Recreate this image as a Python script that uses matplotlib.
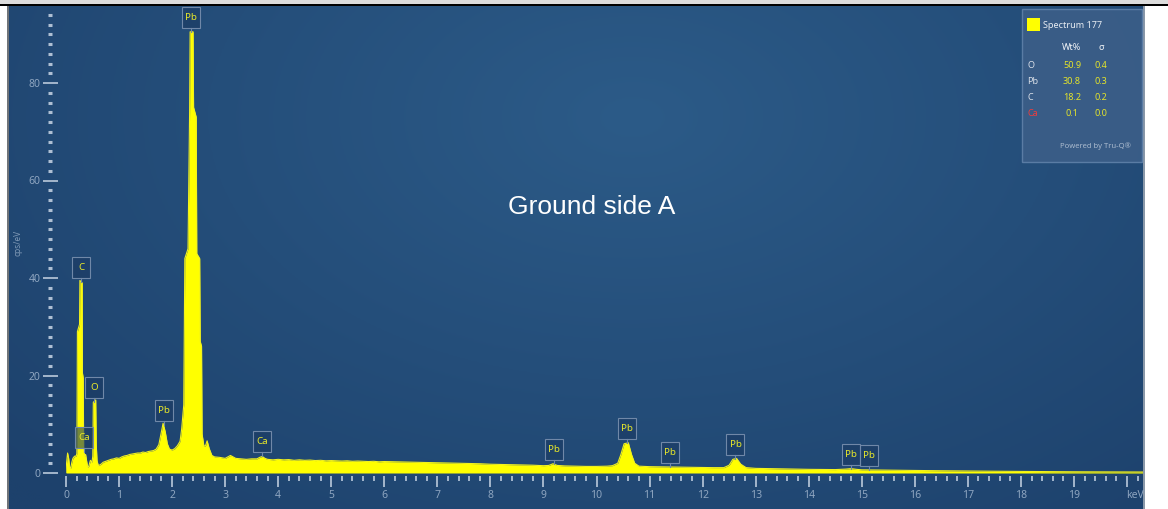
import numpy as np
import matplotlib
matplotlib.use("Agg")
import matplotlib.pyplot as plt
from matplotlib.patches import Rectangle
from matplotlib.lines import Line2D
from matplotlib import transforms
from matplotlib.colors import to_rgb

plt.rcParams["font.family"] = ["Noto Sans", "DejaVu Sans"]

# ---- spectrum (energy in keV, counts in cps/eV) ----
energy_kev = [
    0.00, 0.01, 0.03, 0.05, 0.07, 0.09, 0.11, 0.13, 0.15, 0.17, 0.19, 0.205,
    0.215, 0.255, 0.262, 0.305, 0.31, 0.325, 0.333, 0.35, 0.37, 0.39, 0.41,
    0.43, 0.46, 0.49, 0.505, 0.515, 0.56, 0.57, 0.585, 0.61, 0.66, 0.70,
    0.75, 0.80, 0.85, 0.90, 0.95, 1.00, 1.05, 1.10, 1.15, 1.20, 1.25, 1.30,
    1.35, 1.40, 1.45, 1.50, 1.55, 1.60, 1.65, 1.70, 1.75, 1.79, 1.83, 1.87,
    1.91, 1.95, 2.00, 2.05, 2.10, 2.15, 2.18, 2.22, 2.24, 2.30, 2.33, 2.34,
    2.395, 2.405, 2.455, 2.465, 2.52, 2.53, 2.555, 2.565, 2.60, 2.63, 2.66,
    2.70, 2.75, 2.80, 2.90, 3.00, 3.05, 3.10, 3.15, 3.20, 3.30, 3.40, 3.50,
    3.60, 3.65, 3.70, 3.75, 3.80, 3.90, 4.00, 4.10, 4.20, 4.30, 4.40, 4.50,
    4.60, 4.70, 4.80, 4.90, 5.00, 5.10, 5.20, 5.30, 5.40, 5.50, 5.60, 5.70,
    5.80, 5.90, 6.00, 6.20, 6.40, 6.60, 6.80, 7.00, 7.20, 7.40, 7.60, 7.80,
    8.00, 8.20, 8.40, 8.60, 8.80, 9.00, 9.10, 9.18, 9.26, 9.40, 9.60, 9.80,
    10.00, 10.20, 10.30, 10.40, 10.46, 10.52, 10.60, 10.66, 10.72, 10.80,
    11.00, 11.30, 11.60, 11.90, 12.20, 12.40, 12.50, 12.57, 12.64, 12.72,
    12.82, 13.00, 13.50, 14.00, 14.50, 14.70, 14.80, 14.90, 15.00, 15.50,
    16.00, 16.50, 17.00, 17.50, 18.00, 18.50, 19.00, 19.50, 20.30,
]
counts = [
    0.0, 2.0, 4.1, 3.0, 1.2, 1.0, 2.2, 3.0, 3.3, 3.5, 3.4, 4.0,
    29.0, 30.5, 39.5, 39.0, 20.5, 19.5, 5.0, 3.4, 3.8, 2.4, 1.2,
    1.4, 2.6, 2.2, 3.5, 14.5, 15.0, 6.0, 2.5, 1.5, 1.8, 2.2,
    2.4, 2.6, 2.8, 2.9, 3.1, 3.0, 3.3, 3.5, 3.6, 3.8, 3.9, 4.0,
    4.1, 4.1, 4.3, 4.2, 4.4, 4.5, 4.6, 4.9, 5.8, 8.0, 10.2, 8.5,
    6.0, 4.9, 4.7, 5.0, 5.6, 6.5, 9.0, 14.0, 44.0, 46.0, 74.0, 90.5,
    90.5, 75.0, 73.0, 45.0, 44.0, 27.0, 26.0, 8.0, 5.5, 5.6, 6.6,
    5.0, 3.6, 3.3, 3.2, 3.0, 3.3, 3.6, 3.3, 3.0, 2.9, 2.8, 2.9,
    2.9, 3.2, 3.4, 3.0, 2.8, 2.7, 2.8, 2.7, 2.75, 2.6, 2.7, 2.6,
    2.65, 2.55, 2.6, 2.5, 2.55, 2.5, 2.45, 2.5, 2.4, 2.45, 2.4, 2.35,
    2.4, 2.3, 2.35, 2.3, 2.25, 2.2, 2.15, 2.1, 2.05, 2.0, 1.95, 1.9,
    1.8, 1.75, 1.7, 1.65, 1.6, 1.5, 1.55, 1.9, 1.55, 1.45, 1.4, 1.35,
    1.35, 1.4, 1.5, 2.0, 3.8, 6.0, 6.2, 3.8, 2.0, 1.4,
    1.3, 1.25, 1.2, 1.15, 1.1, 1.1, 1.6, 2.8, 3.0, 1.8,
    1.1, 0.95, 0.85, 0.75, 0.7, 0.8, 0.9, 0.75, 0.65, 0.58,
    0.52, 0.46, 0.4, 0.36, 0.32, 0.28, 0.25, 0.23, 0.2,
]

# ---- element markers ----
marker_names = ["Pb", "C", "O", "Ca", "Pb", "Ca", "Pb", "Pb", "Pb", "Pb", "Pb", "Pb"]
marker_kev = [2.35, 0.283, 0.53, 0.34, 1.84, 3.70, 9.20, 10.58, 11.38, 12.62, 14.80, 15.13]

# ---- quantification table ----
quant_elements = ["O", "Pb", "C", "Ca"]
quant_wt = ["50.9", "30.8", "18.2", "0.1"]
quant_sigma = ["0.4", "0.3", "0.2", "0.0"]
spectrum_name = "Spectrum 177"

x_tick_values = list(range(0, 21))
x_tick_labels = [str(v) for v in range(0, 20)] + [""]
y_tick_values = [0, 20, 40, 60, 80]

# ---- figure ----
W, H = 1168, 509
fig = plt.figure(figsize=(W / 100, H / 100), dpi=100, facecolor="white")


def frame(x0, y0, x1, y1):
    return [x0 / W, 1 - y1 / H, (x1 - x0) / W, (y1 - y0) / H]


def fx(px):
    return px / W


def fy(py):
    return 1 - py / H


# blue panel with a soft radial glow
bg = fig.add_axes(frame(9, 6, 1143, 509))
bg.axis("off")
ny, nx = 200, 400
yy, xx = np.mgrid[0:1:ny * 1j, 0:1:nx * 1j]
d = np.sqrt(((xx - 0.55) / 0.75) ** 2 + ((yy - 0.22) / 1.05) ** 2)
t = np.clip(d, 0, 1)[..., None]
inner = np.array(to_rgb("#2c5b88"))
outer = np.array(to_rgb("#1d416c"))
img = inner * (1 - t) + outer * t
bg.imshow(img, extent=[0, 1, 0, 1], aspect="auto", origin="upper")
bg.set_xlim(0, 1)
bg.set_ylim(0, 1)

# window frame pieces
fig.add_artist(Rectangle((0, fy(4)), 1, 4 / H, transform=fig.transFigure,
                         color="#dcdcdc", lw=0))
fig.add_artist(Rectangle((0, fy(6)), 1, 2 / H, transform=fig.transFigure,
                         color="#000000", lw=0))
fig.add_artist(Rectangle((fx(7), 0), 2 / W, fy(6), transform=fig.transFigure,
                         color="#707478", lw=0))
fig.add_artist(Rectangle((fx(1143), 0), 2 / W, fy(6), transform=fig.transFigure,
                         color="#8a98a8", lw=0))

# spectrum axes
ax = fig.add_axes(frame(66, 6, 1143, 473))
ax.patch.set_alpha(0)
ax.set_xlim(0, (1143 - 66) / 53.05)
ax.set_ylim(0, (473 - 6) / 4.875)
ax.fill_between(energy_kev, counts, 0, color="#ffff00", lw=0, zorder=2)
ax.plot(energy_kev, counts, color="#f2f21e", lw=0.8, zorder=2)

for s in ax.spines.values():
    s.set_visible(False)
ax.spines["bottom"].set_position(("outward", 2.2))
ax.spines["left"].set_position(("outward", 11.5))

tick_c = "#aebfd3"
lab_c = "#8ea5c0"
ax.set_xticks(x_tick_values)
ax.set_xticklabels(x_tick_labels)
ax.set_xticks(np.arange(0, 20.25, 0.2), minor=True)
ax.tick_params(axis="x", which="major", direction="out", length=7.9, width=1.3,
               color=tick_c, pad=2.5, labelsize=7.5, labelcolor=lab_c)
ax.tick_params(axis="x", which="minor", direction="out", length=3.6, width=1.3,
               color=tick_c)
ax.set_yticks(y_tick_values)
ax.set_yticks(np.arange(0, 95, 2), minor=True)
ax.tick_params(axis="y", which="major", direction="inout", length=10.8, width=1.3,
               color=tick_c, pad=1.5, labelsize=7.5, labelcolor=lab_c)
ax.tick_params(axis="y", which="minor", direction="inout", length=2.2, width=2.2,
               color=tick_c)

fig.text(fx(1135), fy(495), "keV", ha="center", va="center", fontsize=7.5, color=lab_c)
fig.text(fx(18), fy(243), "cps/eV", ha="center", va="center", rotation=90,
         fontsize=6, color="#7f98b5")

# element marker boxes (sizes in pixels, anchored at the spectrum top)
box_w, box_h, gap = 18, 21, 4
for name, e in zip(marker_names, marker_kev):
    v = float(np.interp(e, energy_kev, counts))
    tr = fig.dpi_scale_trans + transforms.ScaledTranslation(e, v, ax.transData)
    px = 1 / 100.0
    ax.add_artist(Rectangle((-box_w / 2 * px, gap * px), box_w * px, box_h * px,
                            transform=tr, facecolor="#1b3a62", alpha=0.6,
                            edgecolor="none", zorder=4, clip_on=False))
    ax.add_artist(Rectangle((-box_w / 2 * px, gap * px), box_w * px, box_h * px,
                            transform=tr, facecolor="none",
                            edgecolor="#7088a8", lw=0.8, zorder=5, clip_on=False))
    ax.add_artist(Line2D([0, 0], [0, gap * px], transform=tr, color="#7088a8",
                         lw=0.8, zorder=5, clip_on=False))
    ax.annotate(name, xy=(e, v), xytext=(0, (gap + box_h / 2) * 0.72),
                textcoords="offset points", ha="center", va="center",
                fontsize=7, color="#e8e82a", zorder=6, annotation_clip=False)

# quantification panel
fig.add_artist(Rectangle((fx(1022), fy(162)), 120 / W, 153 / H,
                         transform=fig.transFigure, facecolor="#3b5e88",
                         alpha=0.92, edgecolor="#5f80a8", lw=1))
fig.add_artist(Rectangle((fx(1027), fy(31)), 13 / W, 13 / H,
                         transform=fig.transFigure, facecolor="#ffff00", lw=0))
fig.text(fx(1043), fy(25), spectrum_name, ha="left", va="center", fontsize=6.5,
         color="#e8edf3")
fig.text(fx(1072), fy(47), "Wt%", ha="center", va="center", fontsize=6.5,
         color="#f0f3f7", fontweight="bold")
fig.text(fx(1101), fy(48), "σ", ha="center", va="center", fontsize=6.5,
         color="#f0f3f7", fontweight="bold")
row_y = [65, 81, 97, 114]
for el, wt, sg, ry in zip(quant_elements, quant_wt, quant_sigma, row_y):
    el_c = "#f03c3c" if el == "Ca" else "#d8dee7"
    fig.text(fx(1027), fy(ry), el, ha="left", va="center", fontsize=6.5, color=el_c)
    fig.text(fx(1072), fy(ry), wt, ha="center", va="center", fontsize=6.5,
             color="#e4e42a")
    fig.text(fx(1101), fy(ry), sg, ha="center", va="center", fontsize=6.5,
             color="#e4e42a")
fig.text(fx(1096), fy(146), "Powered by Tru-Q®", ha="center", va="center",
         fontsize=5.5, color="#a9b9cd")

# sample title
fig.text(fx(592), fy(207), "Ground side A", ha="center", va="center",
         fontsize=19, color="white", family="Liberation Sans")

fig.savefig("out.png", dpi=100, facecolor="white")
